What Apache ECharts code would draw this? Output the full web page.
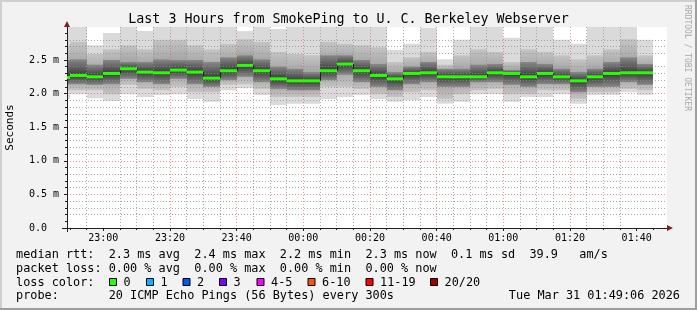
<!DOCTYPE html>
<html><head><meta charset="utf-8">
<script src="https://cdn.jsdelivr.net/npm/echarts@6/dist/echarts.min.js"></script>
<style>html,body{margin:0;padding:0;background:#f2f2f2}#c{width:697px;height:310px}</style>
</head><body><div id="c"></div>
<script>
// ---- data ----
const colEnds = ['22:50','22:55','23:00','23:05','23:10','23:15','23:20','23:25','23:30','23:35','23:40','23:45','23:50','23:55',
  '00:00','00:05','00:10','00:15','00:20','00:25','00:30','00:35','00:40','00:45','00:50','00:55',
  '01:00','01:05','01:10','01:15','01:20','01:25','01:30','01:35','01:40','01:45'];
const medianRtt = [2.24,2.27,2.25,2.30,2.37,2.32,2.31,2.35,2.32,2.23,2.34,2.42,2.34,2.22,2.19,2.19,2.34,2.44,2.34,2.27,2.22,2.30,2.31,2.25,2.25,2.25,2.31,2.30,2.25,2.30,2.25,2.19,2.25,2.30,2.31,2.31];
const smokeMax = [2.99,2.99,2.72,2.90,2.99,2.93,2.99,2.99,2.99,2.99,2.99,2.93,2.99,2.96,2.99,2.99,2.99,2.99,2.99,2.99,2.65,2.74,2.98,2.51,2.80,2.99,2.99,2.83,2.99,2.99,2.80,2.74,2.99,2.99,2.99,2.80];
const smokeHiOuter = [2.72,2.77,2.59,2.66,2.72,2.66,2.80,2.80,2.72,2.66,2.74,2.81,2.77,2.62,2.59,2.57,2.77,2.74,2.72,2.69,2.47,2.54,2.62,2.43,2.57,2.66,2.62,2.47,2.66,2.62,2.57,2.51,2.57,2.66,2.81,2.57];
const smokeHiInner = [2.50,2.51,2.43,2.50,2.47,2.47,2.51,2.50,2.50,2.47,2.54,2.57,2.51,2.40,2.37,2.32,2.57,2.57,2.50,2.44,2.32,2.40,2.47,2.37,2.37,2.43,2.44,2.35,2.47,2.44,2.37,2.32,2.37,2.47,2.54,2.44];
const smokeLoInner = [2.14,2.14,2.13,2.14,2.22,2.17,2.14,2.22,2.14,2.10,2.20,2.25,2.17,2.07,2.05,2.05,2.20,2.28,2.17,2.10,2.05,2.14,2.17,2.10,2.10,2.17,2.17,2.13,2.10,2.14,2.14,2.02,2.10,2.10,2.17,2.13];
const smokeLoOuter = [2.05,2.05,2.05,1.99,2.13,2.07,2.05,2.10,2.02,2.02,2.13,2.14,2.07,1.95,1.95,1.95,2.10,2.10,2.07,1.99,1.95,2.02,2.05,1.92,1.99,2.05,2.07,1.99,1.99,2.05,2.05,1.92,2.02,2.02,2.07,2.05];
const smokeMin = [1.92,1.99,1.93,1.89,1.99,1.95,1.98,1.99,1.92,1.88,2.05,2.08,1.98,1.83,1.85,1.85,1.92,1.95,1.98,1.92,1.88,1.90,1.95,1.85,1.88,1.99,1.99,1.88,1.95,1.95,1.99,1.85,1.98,1.98,2.02,1.98];
const xTickLabels = ['23:00','23:20','23:40','00:00','00:20','00:40','01:00','01:20','01:40'];
const yTickValues = [0, 0.5, 1.0, 1.5, 2.0, 2.5];
const yTickLabels = ['0.0','0.5 m','1.0 m','1.5 m','2.0 m','2.5 m'];
const rangeStart = '22:49:06', rangeEnd = '01:49:06';
const stepMinutes = 5;
const lossLabels = ['0','1','2','3','4-5','6-10','11-19','20/20'];
const lossColors = ['#26ff00','#00b8ff','#0059ff','#7e00ff','#ff00ff','#ff5500','#ff0000','#a10000'];
const rttStats = 'median rtt:  2.3 ms avg  2.4 ms max  2.2 ms min  2.3 ms now  0.1 ms sd  39.9   am/s';
const lossStats = 'packet loss: 0.00 % avg  0.00 % max  0.00 % min  0.00 % now';
const probeText = 'probe:       20 ICMP Echo Pings (56 Bytes) every 300s';
const stampText = 'Tue Mar 31 01:49:06 2026';
const titleText = 'Last 3 Hours from SmokePing to U. C. Berkeley Webserver';

// ---- helpers ----
function toMin(s){ const p = s.split(':').map(Number); const h = p[0]; return (h >= 12 ? h - 22 : h + 2) * 60 + p[1] + (p[2] || 0) / 60; }
const xMin = toMin(rangeStart), xMax = toMin(rangeEnd);
const xMajor = xTickLabels.map(toMin);
const xMinor = []; for (let m = Math.ceil(xMin / 5) * 5; m < xMax; m += 5) if (m % 20 !== 0) xMinor.push(m);
const yMinor = []; for (let k = 1; k < 30; k++) if (k % 5 !== 0) yMinor.push(k / 10);
const MONO = '"DejaVu Sans Mono", monospace';
const MAJ = 'rgba(222,79,79,0.6)', MIN = 'rgba(143,143,143,0.75)';
const LEG = 11.85;

const smokeData = colEnds.map((t, i) => [toMin(t), smokeMax[i], smokeHiOuter[i], smokeHiInner[i], medianRtt[i], smokeLoInner[i], smokeLoOuter[i], smokeMin[i]]);
const medData = colEnds.map((t, i) => [toMin(t), medianRtt[i]]);

function colX(params, api, end){
  const cs = params.coordSys;
  let xa = Math.round(api.coord([end - stepMinutes, 0])[0]);
  let xb = Math.round(api.coord([end, 0])[0]);
  xa = Math.max(xa, cs.x); xb = Math.min(xb, cs.x + cs.width);
  return [xa, xb];
}
const G = (c0, c1) => new echarts.graphic.LinearGradient(0, 0, 0, 1, [{offset:0,color:c0},{offset:1,color:c1}]);

function smokeItem(params, api){
  const end = api.value(0);
  const [xa, xb] = colX(params, api, end);
  if (xb <= xa) return null;
  const Y = k => api.coord([end, api.value(k)])[1];
  const yMax = Y(1), yHo = Y(2), yHi = Y(3), yMed = Y(4), yLi = Y(5), yLo = Y(6), yMn = Y(7);
  const R = (y0, y1, fill) => ({type:'rect', shape:{x:xa, y:y0, width:xb - xa, height:y1 - y0}, style:{fill}});
  return {type:'group', children:[
    R(yMax, yMn, '#dadada'),
    R(yHo, yMed, G('#c4c4c4', '#969696')),
    R(yMed, yLo, G('#969696', '#c4c4c4')),
    R(yHi, yMed, G('#888888', '#3a3a3a')),
    R(yMed, yLi, G('#3a3a3a', '#888888'))
  ]};
}
function medItem(params, api){
  const i = params.dataIndex, end = api.value(0);
  const [xa, xb] = colX(params, api, end);
  if (xb <= xa) return null;
  const y = api.coord([end, api.value(1)])[1];
  const ch = [];
  if (i > 0) {
    const yp = api.coord([end, medianRtt[i - 1]])[1];
    ch.push({type:'line', shape:{x1:xa + 0.5, y1:yp, x2:xa + 0.5, y2:y}, style:{stroke:'#202020', lineWidth:1}});
  }
  ch.push({type:'line', shape:{x1:xa, y1:y, x2:xb, y2:y}, style:{stroke:'#202020', lineWidth:1}});
  ch.push({type:'line', shape:{x1:xa, y1:y, x2:xb, y2:y}, style:{stroke:lossColors[0], lineWidth:3}});
  return {type:'group', children:ch};
}

const graphics = [
  {type:'rect', shape:{x:0, y:0, width:697, height:2}, style:{fill:'#cfcfcf'}, silent:true},
  {type:'rect', shape:{x:0, y:0, width:2, height:310}, style:{fill:'#cfcfcf'}, silent:true},
  {type:'rect', shape:{x:695, y:0, width:2, height:310}, style:{fill:'#9e9e9e'}, silent:true},
  {type:'rect', shape:{x:0, y:308, width:697, height:2}, style:{fill:'#9e9e9e'}, silent:true},
  {type:'text', x:348.5, y:20, silent:true, style:{text:titleText, fontFamily:MONO, fontSize:13.3, fill:'#000', align:'center', verticalAlign:'middle'}},
  {type:'text', x:687, y:5, rotation:-Math.PI/2, silent:true, style:{text:'RRDTOOL / TOBI OETIKER', fontFamily:MONO, fontSize:8, fill:'#a8a8a8', align:'left', verticalAlign:'middle'}},
  {type:'text', x:10, y:127.5, rotation:Math.PI/2, silent:true, style:{text:'Seconds', fontFamily:MONO, fontSize:11, fill:'#000', align:'center', verticalAlign:'middle'}},
  {type:'line', shape:{x1:67.5, y1:228, x2:67.5, y2:232}, style:{stroke:'#1f1f1f', lineWidth:1}, silent:true, z:10},
  {type:'line', shape:{x1:62, y1:228.5, x2:67, y2:228.5}, style:{stroke:'#1f1f1f', lineWidth:1}, silent:true, z:10},
  {type:'polygon', shape:{points:[[64,27],[67,21],[70,27]]}, style:{fill:'#801f1f'}, silent:true, z:10},
  {type:'polygon', shape:{points:[[667,225],[673,228],[667,231]]}, style:{fill:'#801f1f'}, silent:true, z:10},
  {type:'text', x:16, y:255, silent:true, style:{text:rttStats, fontFamily:MONO, fontSize:LEG, fill:'#000', align:'left', verticalAlign:'middle'}},
  {type:'text', x:16, y:268.5, silent:true, style:{text:lossStats, fontFamily:MONO, fontSize:LEG, fill:'#000', align:'left', verticalAlign:'middle'}},
  {type:'text', x:16, y:282.5, silent:true, style:{text:'loss color:', fontFamily:MONO, fontSize:LEG, fill:'#000', align:'left', verticalAlign:'middle'}},
  {type:'text', x:16, y:296, silent:true, style:{text:probeText, fontFamily:MONO, fontSize:LEG, fill:'#000', align:'left', verticalAlign:'middle'}},
  {type:'text', x:680, y:296, silent:true, style:{text:stampText, fontFamily:MONO, fontSize:LEG, fill:'#000', align:'right', verticalAlign:'middle'}}
];
const legendBoxX = [109, 146, 182.5, 219, 256.5, 307.5, 365.5, 430];
lossLabels.forEach((lab, k) => {
  graphics.push({type:'rect', shape:{x:legendBoxX[k] + 0.5, y:278.5, width:7, height:7}, style:{fill:lossColors[k], stroke:'#000', lineWidth:1}, silent:true});
  graphics.push({type:'text', x:legendBoxX[k] + 14.5, y:282.5, silent:true, style:{text:lab, fontFamily:MONO, fontSize:LEG, fill:'#000', align:'left', verticalAlign:'middle'}});
});

const chart = echarts.init(document.getElementById('c'), null, {renderer:'canvas'});
chart.setOption({
  animation:false,
  backgroundColor:'#f2f2f2',
  grid:{left:67, top:27, width:600, height:201, show:true, backgroundColor:'#ffffff', borderWidth:0},
  xAxis:[
    {type:'value', min:xMin, max:xMax, position:'bottom', z:3,
     axisLine:{show:true, onZero:false, lineStyle:{color:'#1f1f1f', width:1}},
     axisTick:{show:true, customValues:xMajor, length:3, lineStyle:{color:'#1f1f1f'}},
     axisLabel:{show:true, customValues:xMajor, formatter:v => xTickLabels[xMajor.findIndex(m => Math.abs(m - v) < 1e-6)] || '', fontFamily:MONO, fontSize:10, color:'#000', margin:5},
     splitLine:{show:true, showMinLine:false, showMaxLine:false, lineStyle:{color:MAJ, type:[1,2], width:1}}},
    {type:'value', min:xMin, max:xMax, position:'bottom', z:2,
     axisLine:{show:false},
     axisTick:{show:true, customValues:xMinor, length:2, lineStyle:{color:'#1f1f1f'}},
     axisLabel:{show:false, customValues:xMinor},
     splitLine:{show:true, showMinLine:false, showMaxLine:false, lineStyle:{color:MIN, type:[1,2], width:1}}}
  ],
  yAxis:[
    {type:'value', min:0, max:201/67.2, position:'left', z:3,
     axisLine:{show:true, onZero:false, lineStyle:{color:'#1f1f1f', width:1}},
     axisTick:{show:true, customValues:yTickValues, length:3, lineStyle:{color:'#1f1f1f'}},
     axisLabel:{show:true, customValues:yTickValues, formatter:v => yTickLabels[yTickValues.findIndex(m => Math.abs(m - v) < 1e-6)] || '', fontFamily:MONO, fontSize:10, color:'#000', align:'left', margin:38},
     splitLine:{show:true, showMinLine:false, showMaxLine:false, lineStyle:{color:MAJ, type:[1,2], width:1}}},
    {type:'value', min:0, max:201/67.2, position:'left', z:2,
     axisLine:{show:false},
     axisTick:{show:true, customValues:yMinor, length:2, lineStyle:{color:'#1f1f1f'}},
     axisLabel:{show:false, customValues:yMinor},
     splitLine:{show:true, showMinLine:false, showMaxLine:false, lineStyle:{color:MIN, type:[1,2], width:1}}}
  ],
  series:[
    {type:'custom', name:'smoke', xAxisIndex:0, yAxisIndex:0, z:1, clip:true, silent:true,
     renderItem:smokeItem, data:smokeData, encode:{x:0, y:[1,7]}},
    {type:'custom', name:'median rtt', xAxisIndex:0, yAxisIndex:0, z:5, clip:true, silent:true,
     renderItem:medItem, data:medData, encode:{x:0, y:1}}
  ],
  graphic:graphics
});
</script></body></html>
